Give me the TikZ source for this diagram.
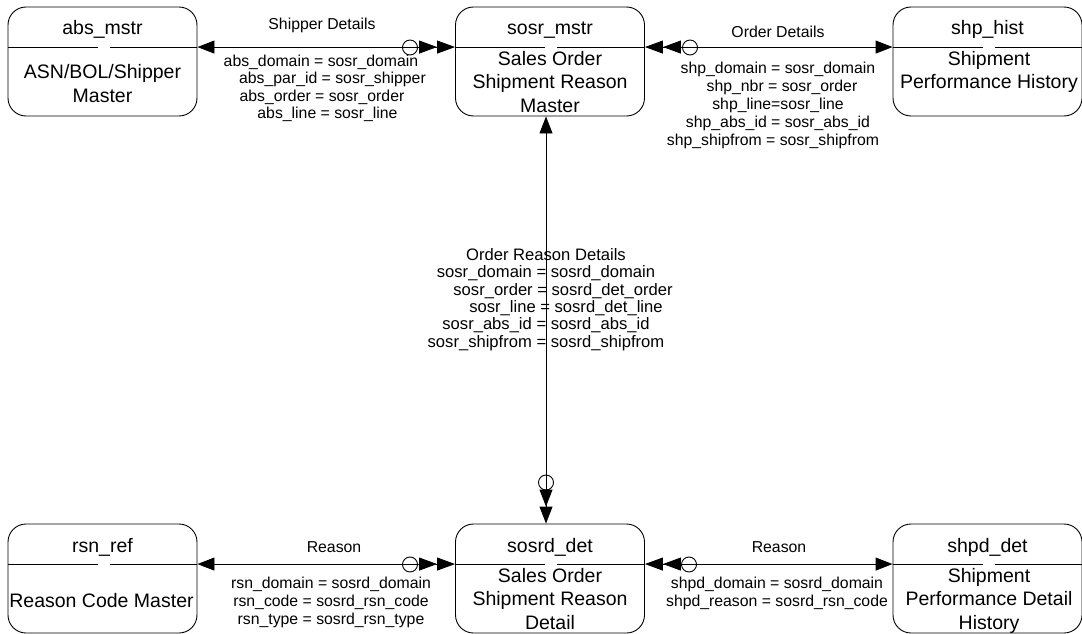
\documentclass[tikz,border=0pt]{standalone}
\usepackage{fontspec}
\setmainfont{Liberation Sans}
\usetikzlibrary{arrows.meta,calc}
\begin{document}
\begin{tikzpicture}[x=1pt,y=-1pt,
  box/.style={draw,line width=0.9pt,rounded corners=18pt,inner sep=0pt,minimum width=189pt,minimum height=109pt},
  boxtxt/.style={font=\fontsize{19.5}{23.5}\selectfont,align=center,inner sep=0pt},
  lbl/.style={font=\fontsize{15.8}{17.6}\selectfont,align=center,inner sep=0pt},
  conn/.style={line width=0.9pt},
  ring/.style={draw,circle,line width=0.9pt,minimum size=15pt,inner sep=0pt}]
\useasboundingbox (0,0) rectangle (1082,634);

% boxes
\node[box] (abs)   at (102.5,61.5) {};
\node[box] (sosr)  at (550,61.5) {};
\node[box] (shp)   at (987.5,61.5) {};
\node[box] (rsn)   at (102.5,578.5) {};
\node[box] (sosrd) at (550,578.5) {};
\node[box] (shpd)  at (987.5,578.5) {};

% dividers
\foreach \b in {abs,sosr,shp,rsn,sosrd,shpd}{
  \draw[conn] ([yshift=-40.5pt]\b.north west) -- ([yshift=-40.5pt,xshift=-5pt]\b.north);
  \draw[conn] ([yshift=-40.5pt,xshift=7pt]\b.north) -- ([yshift=-40.5pt]\b.north east);
}

% titles
\node[boxtxt,anchor=base] (absT)   at (102.5,35) {abs\_mstr};
\node[boxtxt,anchor=base] (sosrT)  at (550,35) {sosr\_mstr};
\node[boxtxt,anchor=base] (shpT)   at (987.5,35) {shp\_hist};
\node[boxtxt,anchor=base] (rsnT)   at (102.5,552) {rsn\_ref};
\node[boxtxt,anchor=base] (sosrdT) at (550,552) {sosrd\_det};
\node[boxtxt,anchor=base] (shpdT)  at (987.5,552) {shpd\_det};

% bodies
\node[boxtxt,anchor=north,font=\fontsize{19.5}{24.5}\selectfont] (absB) at (102.5,64) {ASN/BOL/Shipper\\Master};
\node[boxtxt,anchor=north] (sosrB)  at (550,51) {Sales Order\\Shipment Reason\\Master};
\node[boxtxt,anchor=north] (shpB)   at (989,51) {Shipment\\Performance History};
\node[boxtxt,anchor=north] (rsnB)   at (101.5,593) {Reason Code Master};
\node[boxtxt,anchor=north] (sosrdB) at (550,568) {Sales Order\\Shipment Reason\\Detail};
\node[boxtxt,anchor=north] (shpdB)  at (989,568) {Shipment\\Performance Detail\\History};

% cardinality rings
\node[ring] (r1) at (410,47.5) {};
\node[ring] (r2) at (690,47.5) {};
\node[ring] (r3) at (546,482.5) {};
\node[ring] (r4) at (410,564.5) {};
\node[ring] (r5) at (689,564.5) {};

% connectors
\draw[conn,{Triangle[length=17pt,width=13pt]}-{Triangle[length=18pt,width=13pt,sep=0pt] Triangle[length=18pt,width=13pt,sep=0pt]}]
  ([yshift=-40.5pt]abs.north east) -- ([yshift=-40.5pt]sosr.north west);
\draw[conn,{Triangle[length=18pt,width=13pt,sep=0pt] Triangle[length=18pt,width=13pt,sep=0pt]}-{Triangle[length=17pt,width=13pt]}]
  ([yshift=-40.5pt]sosr.north east) -- ([yshift=-40.5pt]shp.north west);
\draw[conn,{Triangle[length=17pt,width=13pt]}-{Triangle[length=17pt,width=13pt,sep=0pt] Triangle[length=17pt,width=13pt,sep=0pt]}]
  ([xshift=-4pt]sosr.south) -- ([xshift=-4pt]sosrd.north);
\draw[conn,{Triangle[length=17pt,width=13pt]}-{Triangle[length=18pt,width=13pt,sep=0pt] Triangle[length=18pt,width=13pt,sep=0pt]}]
  ([yshift=-40.5pt]rsn.north east) -- ([yshift=-40.5pt]sosrd.north west);
\draw[conn,{Triangle[length=18pt,width=13pt,sep=0pt] Triangle[length=18pt,width=13pt,sep=0pt]}-{Triangle[length=17pt,width=13pt]}]
  ([yshift=-40.5pt]sosrd.north east) -- ([yshift=-40.5pt]shpd.north west);

% labels
\node[lbl,anchor=base] (l1) at (322,30) {Shipper Details};
\node[lbl,anchor=north] (l1b) at (321,54.5) {abs\_domain = sosr\_domain\\\hspace*{23pt}abs\_par\_id = sosr\_shipper\\\hspace*{2pt}abs\_order = sosr\_order\\\hspace*{13pt}abs\_line = sosr\_line};
\node[lbl,anchor=base] (l2) at (778,38) {Order Details};
\node[lbl,anchor=north,font=\fontsize{15.8}{18}\selectfont] (l2b) at (778,61.5) {shp\_domain = sosr\_domain\\\hspace*{8pt}shp\_nbr = sosr\_order\\shp\_line=sosr\_line\\shp\_abs\_id = sosr\_abs\_id\\shp\_shipfrom = sosr\_shipfrom\hspace*{10pt}};
\node[lbl,anchor=north,font=\fontsize{16.6}{17.4}\selectfont] (l3b) at (546,248) {Order Reason Details\\sosr\_domain = sosrd\_domain\\\hspace*{34pt}sosr\_order = sosrd\_det\_order\\\hspace*{40pt}sosr\_line = sosrd\_det\_line\\sosr\_abs\_id = sosrd\_abs\_id\\sosr\_shipfrom = sosrd\_shipfrom};
\node[lbl,anchor=base] (l4) at (334,552) {Reason};
\node[lbl,anchor=north,font=\fontsize{15.8}{18}\selectfont] (l4b) at (331,576.5) {rsn\_domain = sosrd\_domain\\rsn\_code = sosrd\_rsn\_code\\rsn\_type = sosrd\_rsn\_type};
\node[lbl,anchor=base] (l5) at (779,552) {Reason};
\node[lbl,anchor=north,font=\fontsize{15.8}{18}\selectfont] (l5b) at (777,576.5) {shpd\_domain = sosrd\_domain\\shpd\_reason = sosrd\_rsn\_code};
\end{tikzpicture}
\end{document}
